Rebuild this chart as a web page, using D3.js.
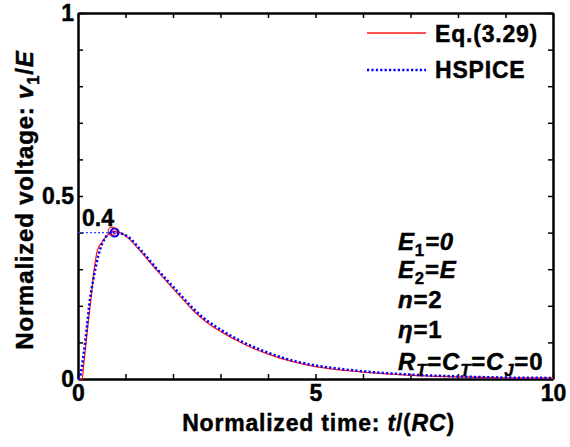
<!DOCTYPE html>
<html>
<head>
<meta charset="utf-8">
<script src="https://cdn.jsdelivr.net/npm/d3@7"></script>
<style>
  body { margin: 0; background: #fff; }
  svg text { font-family: "Liberation Sans", Arial, sans-serif; font-weight: bold; fill: #000;
             stroke: #000; stroke-width: 0.45; letter-spacing: 0.8px; }
  .axis path, .axis line { stroke: #000; }
  .axis path { stroke-width: 2.5; }
  .axis line { stroke-width: 1.5; }
</style>
</head>
<body>
<svg width="570" height="447"></svg>
<script>
// Eq.(3.29) curve
var eqTime = [0, 0.09, 0.12, 0.16, 0.21, 0.27, 0.34, 0.41, 0.51, 0.62, 0.72, 0.9, 1.05, 1.33, 1.68, 1.96, 2.2, 2.42, 2.7, 3.0, 3.5, 4.0, 4.5, 5.0, 5.5, 6.0, 6.5, 7.0, 8.0, 9.0, 10.0];
var eqVolt = [0, 0, 0.04, 0.087, 0.15, 0.216, 0.298, 0.352, 0.375, 0.393, 0.404, 0.399, 0.386, 0.347, 0.294, 0.253, 0.219, 0.188, 0.156, 0.130, 0.095, 0.068, 0.048, 0.034, 0.025, 0.019, 0.014, 0.010, 0.006, 0.003, 0.002];

// HSPICE simulation
var spTime = [0, 0.04, 0.11, 0.18, 0.25, 0.32, 0.39, 0.46, 0.57, 0.67, 0.77, 0.9, 1.05, 1.33, 1.68, 1.96, 2.2, 2.42, 2.7, 3.0, 3.5, 4.0, 4.5, 5.0, 5.5, 6.0, 6.5, 7.0, 8.0, 9.0, 10.0];
var spVolt = [0, 0.006, 0.06, 0.134, 0.216, 0.27, 0.316, 0.352, 0.385, 0.398, 0.401, 0.398, 0.389, 0.351, 0.298, 0.258, 0.224, 0.193, 0.161, 0.135, 0.099, 0.072, 0.051, 0.037, 0.028, 0.021, 0.016, 0.012, 0.007, 0.004, 0.003];

// peak markers
var peakEq = [0.72, 0.404];
var peakSp = [0.77, 0.4];

var xTicks = [0, 1, 2, 3, 4, 5, 6, 7, 8, 9, 10];
var xLabels = [0, 5, 10];
var yTicks = [0, 0.1, 0.2, 0.3, 0.4, 0.5, 0.6, 0.7, 0.8, 0.9, 1];
var yLabels = [0, 0.5, 1];

var svg = d3.select('svg');

var x = d3.scaleLinear().domain([0, 10]).range([78, 553]);
var y = d3.scaleLinear().domain([0, 1]).range([379, 13]);

function tickFmt(labels) {
    return function(d) { return labels.indexOf(d) >= 0 ? d3.format('')(d) : ''; };
}

// bottom and left axes with labels, ticks pointing inward
svg.append('g')
    .attr('class', 'axis')
    .attr('transform', 'translate(0,' + y(0) + ')')
    .call(d3.axisBottom(x).tickValues(xTicks).tickSizeInner(-5).tickSizeOuter(0)
        .tickPadding(6).tickFormat(tickFmt(xLabels)))
    .call(function(g) { g.selectAll('text').attr('font-size', 23).style('letter-spacing', '0px'); });

svg.append('g')
    .attr('class', 'axis')
    .attr('transform', 'translate(' + x(0) + ',0)')
    .call(d3.axisLeft(y).tickValues(yTicks).tickSizeInner(-5).tickSizeOuter(0)
        .tickPadding(4).tickFormat(tickFmt(yLabels)))
    .call(function(g) { g.selectAll('text').attr('font-size', 23).style('letter-spacing', '0px'); });

// top and right: ticks only
svg.append('g')
    .attr('class', 'axis')
    .attr('transform', 'translate(0,' + y(1) + ')')
    .call(d3.axisTop(x).tickValues(xTicks).tickSizeInner(-5).tickSizeOuter(0).tickFormat(''));

svg.append('g')
    .attr('class', 'axis')
    .attr('transform', 'translate(' + x(10) + ',0)')
    .call(d3.axisRight(y).tickValues(yTicks).tickSizeInner(-5).tickSizeOuter(0).tickFormat(''));

var line = d3.line()
    .x(function(d) { return x(d[0]); })
    .y(function(d) { return y(d[1]); })
    .curve(d3.curveMonotoneX);

var eqData = eqTime.map(function(t, i) { return [t, eqVolt[i]]; });
var spData = spTime.map(function(t, i) { return [t, spVolt[i]]; });

// dotted guide line at the peak value
svg.append('line')
    .attr('x1', x(0)).attr('x2', x(peakSp[0]))
    .attr('y1', y(peakSp[1])).attr('y2', y(peakSp[1]))
    .attr('stroke', '#3344ff').attr('stroke-width', 1.3)
    .attr('stroke-dasharray', '2,2');

svg.append('path')
    .datum(eqData)
    .attr('d', line)
    .attr('fill', 'none')
    .attr('stroke', '#ff1a1a')
    .attr('stroke-width', 1.3);

svg.append('path')
    .datum(spData)
    .attr('d', line)
    .attr('fill', 'none')
    .attr('stroke', '#0000ff')
    .attr('stroke-width', 2.5)
    .attr('stroke-dasharray', '2.2,2.2');

svg.append('circle')
    .attr('cx', x(peakSp[0])).attr('cy', y(peakSp[1])).attr('r', 4)
    .attr('fill', 'none').attr('stroke', '#0000ff').attr('stroke-width', 2);

svg.append('circle')
    .attr('cx', x(peakEq[0])).attr('cy', y(peakEq[1])).attr('r', 4)
    .attr('fill', 'none').attr('stroke', '#ff1a1a').attr('stroke-width', 1.2);

svg.append('text')
    .attr('x', x(0) + 4).attr('y', y(peakSp[1]) - 7)
    .attr('font-size', 23)
    .style('letter-spacing', '0px')
    .text(d3.format('.1f')(peakSp[1]));

// legend
var legend = svg.append('g');
legend.append('line')
    .attr('x1', 367).attr('x2', 426).attr('y1', 33).attr('y2', 33)
    .attr('stroke', '#ff1a1a').attr('stroke-width', 1.3);
legend.append('text').attr('x', 435).attr('y', 42).attr('font-size', 23).text('Eq.(3.29)');
legend.append('line')
    .attr('x1', 367).attr('x2', 426).attr('y1', 70).attr('y2', 70)
    .attr('stroke', '#0000ff').attr('stroke-width', 2.5).attr('stroke-dasharray', '2.2,2.2');
legend.append('text').attr('x', 435).attr('y', 78).attr('font-size', 23).text('HSPICE');

// helper to write text pieces: [string, italic, subscript]
function richText(sel, parts) {
    parts.forEach(function(p, i) {
        var t = sel.append('tspan').text(p[0]);
        if (p[1]) t.attr('font-style', 'italic');
        if (p[2]) t.attr('font-size', '0.7em').attr('dy', '0.35em');
        else if (i > 0 && parts[i - 1][2]) t.attr('dy', '-0.245em');
    });
}

// parameter annotations
var notes = [
    [['E', 1], ['1', 0, 1], ['=0', 1]],
    [['E', 1], ['2', 0, 1], ['=', 0], ['E', 1]],
    [['n', 1], ['=2', 0]],
    [['\u03b7', 1], ['=1', 0]],
    [['R', 1], ['T', 1, 1], ['=', 0], ['C', 1], ['T', 1, 1], ['=', 0], ['C', 1], ['J', 1, 1], ['=0', 0]]
];
var noteY = [250, 278, 308, 338, 370];
notes.forEach(function(n, i) {
    var t = svg.append('text').attr('x', 398).attr('y', noteY[i]).attr('font-size', 24);
    richText(t, n);
});

// axis titles
var xt = svg.append('text')
    .attr('x', (x(0) + x(10)) / 2 + 3).attr('y', 431)
    .attr('text-anchor', 'middle').attr('font-size', 23);
richText(xt, [['Normalized time: ', 0], ['t', 1], ['/(', 0], ['RC', 1], [')', 0]]);

var yt = svg.append('text')
    .attr('transform', 'translate(33,200) rotate(-90)')
    .attr('text-anchor', 'middle').attr('font-size', 24);
richText(yt, [['Normalized voltage: ', 0], ['v', 1], ['1', 0, 1], ['/', 0], ['E', 1]]);
</script>
</body>
</html>
